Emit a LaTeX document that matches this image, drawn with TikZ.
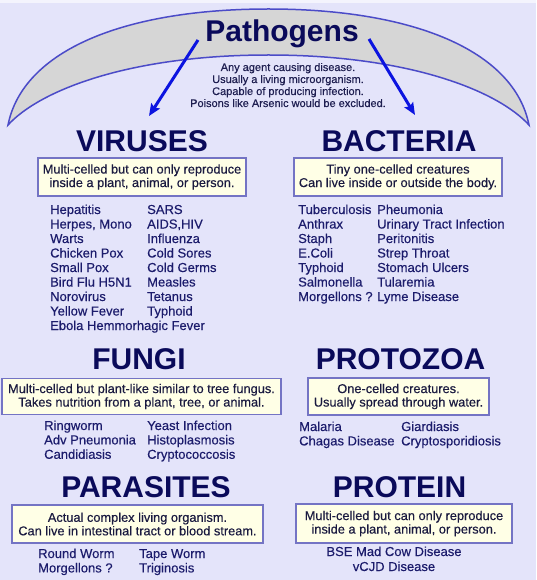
\documentclass[tikz,border=0pt]{standalone}
\usepackage{fontspec}
\setmainfont{Liberation Sans}
\newfontfamily\medfont{Liberation Sans}[FakeBold=0.35]
\usetikzlibrary{arrows.meta}
\definecolor{bg}{HTML}{E4E4FA}
\definecolor{navy}{HTML}{0A0A5A}
\definecolor{itemtext}{HTML}{1C1C6C}
\definecolor{boxtext}{HTML}{1A1A40}
\definecolor{desctext}{HTML}{1E1E50}
\definecolor{boxline}{HTML}{7474C4}
\definecolor{boxfill}{HTML}{FFFFE6}
\definecolor{arcline}{HTML}{4B4BC8}
\definecolor{arcfill}{HTML}{D6D6D6}
\definecolor{arrowblue}{HTML}{0C14E0}
\begin{document}
\begin{tikzpicture}[x=1pt,y=-1pt,
  heading/.style={font=\fontsize{30}{36}\selectfont\bfseries, text=navy, anchor=base, inner sep=0},
  descline/.style={font=\medfont\fontsize{11}{12}\selectfont, text=desctext, anchor=base, inner sep=0},
  infobox/.style={draw=boxline, fill=boxfill, line width=1.2pt, inner sep=0, align=center,
    font=\medfont\fontsize{12.8}{13.5}\selectfont, text=boxtext},
  item/.style={font=\medfont\fontsize{13}{14.5}\selectfont, text=itemtext, anchor=base west, inner sep=0},
  itemc/.style={font=\medfont\fontsize{13}{14.5}\selectfont, text=itemtext, anchor=base, inner sep=0},
  bigarrow/.style={draw=arrowblue, line width=3pt, -{Stealth[length=12pt,width=10pt,inset=2pt]}}]
\fill[bg] (0,0) rectangle (536,580);
\useasboundingbox (0,0) rectangle (536,580);
\fill[white, opacity=0.6] (0,0) rectangle (536,3);

% crescent
\filldraw[fill=arcfill, draw=arcline, line width=1.5pt]
  (8,125) .. controls (23,50) and (125,9) .. (268.5,9)
          .. controls (412,9) and (514,50) .. (529,125)
          .. controls (497,90) and (407,55) .. (268.5,55)
          .. controls (130,55) and (40,90) .. (8,125) -- cycle;

% title
\node[heading] (title) at (282,42) {Pathogens};
\node[descline] (d1) at (288,71) {Any agent causing disease.};
\node[descline] (d2) at (288,83) {Usually a living microorganism.};
\node[descline] (d3) at (288,95) {Capable of producing infection.};
\node[descline] (d4) at (288,107) {Poisons like Arsenic would be excluded.};

% arrows
\coordinate (la) at (198,40);
\coordinate (lb) at (149,116);
\coordinate (ra) at (369,39);
\coordinate (rb) at (415,115);
\draw[bigarrow] (la) -- (lb);
\draw[bigarrow] (ra) -- (rb);

% headings
\node[heading] (vir) at (142,152) {VIRUSES};
\node[heading] (bac) at (399,152) {BACTERIA};
\node[heading] (fun) at (139,369) {FUNGI};
\node[heading] (pro) at (400.5,369) {PROTOZOA};
\node[heading] (par) at (146,497) {PARASITES};
\node[heading] (prt) at (399.5,497) {PROTEIN};

% boxes
\node[infobox, minimum width=208pt, minimum height=38pt] (virbox) at (142,177)
  {Multi-celled but can only reproduce\\inside a plant, animal, or person.};
\node[infobox, minimum width=208pt, minimum height=38pt] (bacbox) at (398,177)
  {Tiny one-celled creatures\\Can live inside or outside the body.};
\node[infobox, minimum width=279pt, minimum height=36pt] (funbox) at (141.5,396.5)
  {Multi-celled but plant-like similar to tree fungus.\\Takes nutrition from a plant, tree, or animal.};
\node[infobox, minimum width=181pt, minimum height=37pt] (probox) at (398.5,396.5)
  {One-celled creatures.\\Usually spread through water.};
\node[infobox, minimum width=251pt, minimum height=38pt] (parbox) at (137.5,524)
  {Actual complex living organism.\\Can live in intestinal tract or blood stream.};
\node[infobox, minimum width=216pt, minimum height=39pt] (prtbox) at (404,523.5)
  {Multi-celled but can only reproduce\\inside a plant, animal, or person.};

% virus lists
\foreach \t [count=\i] in {Hepatitis, {Herpes, Mono}, Warts, Chicken Pox, Small Pox, Bird Flu H5N1, Norovirus, Yellow Fever, Ebola Hemmorhagic Fever}
  \node[item] (va\i) at ({50},{214+14.5*(\i-1)}) {\t};
\foreach \t [count=\i] in {SARS, {AIDS,HIV}, Influenza, Cold Sores, Cold Germs, Measles, Tetanus, Typhoid}
  \node[item] (vb\i) at ({147},{214+14.5*(\i-1)}) {\t};
% bacteria lists
\foreach \t [count=\i] in {Tuberculosis, Anthrax, Staph, E.Coli, Typhoid, Salmonella, Morgellons ?}
  \node[item] (ba\i) at ({298},{214+14.5*(\i-1)}) {\t};
\foreach \t [count=\i] in {Pheumonia, Urinary Tract Infection, Peritonitis, Strep Throat, Stomach Ulcers, Tularemia, Lyme Disease}
  \node[item] (bb\i) at ({377},{214+14.5*(\i-1)}) {\t};
% fungi lists
\foreach \t [count=\i] in {Ringworm, Adv Pneumonia, Candidiasis}
  \node[item] (fa\i) at ({44},{430+14.4*(\i-1)}) {\t};
\foreach \t [count=\i] in {Yeast Infection, Histoplasmosis, Cryptococcosis}
  \node[item] (fb\i) at ({147},{430+14.4*(\i-1)}) {\t};
% protozoa lists
\foreach \t [count=\i] in {Malaria, Chagas Disease}
  \node[item] (pa\i) at ({299},{431+14.4*(\i-1)}) {\t};
\foreach \t [count=\i] in {Giardiasis, Cryptosporidiosis}
  \node[item] (pb\i) at ({401},{431+14.4*(\i-1)}) {\t};
% parasites lists
\foreach \t [count=\i] in {Round Worm, Morgellons ?}
  \node[item] (qa\i) at ({38},{558+14.4*(\i-1)}) {\t};
\foreach \t [count=\i] in {Tape Worm, Triginosis}
  \node[item] (qb\i) at ({139},{558+14.4*(\i-1)}) {\t};
% protein list
\node[itemc] (ra1) at (394,556) {BSE Mad Cow Disease};
\node[itemc] (ra2) at (394,571) {vCJD Disease};
\end{tikzpicture}
\end{document}
